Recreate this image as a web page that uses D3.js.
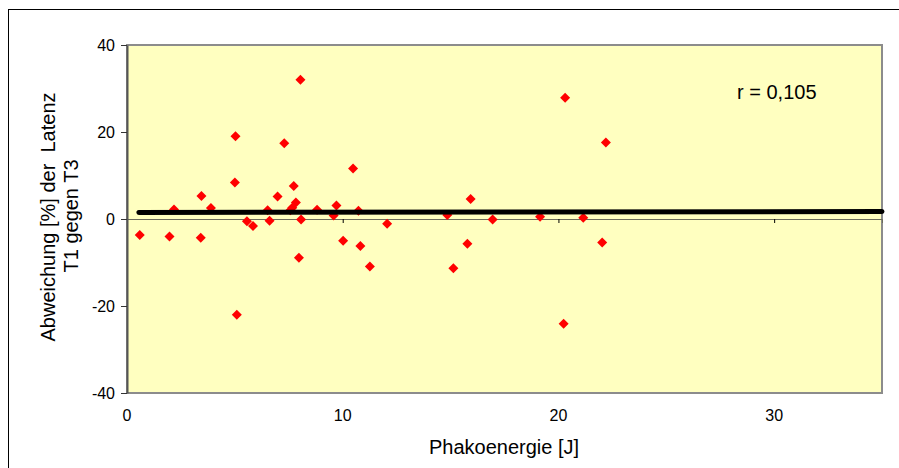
<!DOCTYPE html>
<html>
<head>
<meta charset="utf-8">
<script src="https://cdn.jsdelivr.net/npm/d3@7"></script>
<style>
  body { margin: 0; background: #fff; }
  text { font-family: "Liberation Sans", Arial, sans-serif; fill: #000; }
</style>
</head>
<body>
<div id="chart"></div>
<script>
// data
var energy = [0.59, 1.97, 2.18, 3.42, 3.45, 3.89, 5.03, 5.00, 5.09, 5.56, 5.84,
  6.52, 6.61, 6.98, 7.29, 7.73, 7.83, 7.66, 7.57, 8.04, 8.07, 7.97, 8.81,
  9.71, 9.58, 10.02, 10.48, 10.73, 10.82, 11.26, 12.06, 14.85, 15.93, 16.95,
  19.15, 20.31, 21.15, 22.20, 15.13, 15.78, 20.24, 22.03];
var deviation = [-3.7, -4.0, 2.2, -4.3, 5.3, 2.5, 19.0, 8.4, -22.0, -0.5, -1.6,
  2.0, -0.4, 5.2, 17.4, 7.6, 3.8, 2.6, 2.0, 32.0, -0.1, -8.9, 2.1,
  3.1, 0.8, -5.0, 11.6, 1.9, -6.2, -10.9, -1.1, 0.9, 4.6, -0.1,
  0.5, 27.9, 0.3, 17.6, -11.3, -5.7, -24.1, -5.4];
var trendX = [0.55, 35];
var trendY = [1.5, 1.7];
var xTicks = [0, 10, 20, 30];
var yTicks = [-40, -20, 0, 20, 40];

var W = 899, H = 468;
var margin = {top: 45, right: 17, bottom: 75, left: 127};

var svg = d3.select("#chart").append("svg")
  .attr("width", W).attr("height", H);

// outer chart frame
svg.append("rect")
  .attr("x", 8.5).attr("y", 9.5)
  .attr("width", W + 10).attr("height", H + 10)
  .attr("fill", "#fff").attr("stroke", "#000").attr("stroke-width", 1);

var x = d3.scaleLinear().domain([0, 35]).range([margin.left, W - margin.right]);
var y = d3.scaleLinear().domain([-40, 40]).range([H - margin.bottom, margin.top]);

// plot area
svg.append("rect")
  .attr("x", x(0)).attr("y", y(40))
  .attr("width", x(35) - x(0)).attr("height", y(-40) - y(40))
  .attr("fill", "#FFFFC0").attr("stroke", "#8c8c8c").attr("stroke-width", 2);

// zero line with x ticks
var xAx = svg.append("g")
  .attr("transform", "translate(0," + y(0) + ")")
  .call(d3.axisBottom(x).tickValues(xTicks).tickSize(4).tickFormat(""));
xAx.select(".domain").attr("stroke", "#6b6b5a");
xAx.selectAll(".tick line").attr("stroke", "#000");

// x tick labels
svg.append("g").selectAll("text")
  .data(xTicks)
  .enter().append("text")
    .attr("x", function(d) { return x(d); })
    .attr("y", 421)
    .attr("text-anchor", "middle")
    .style("font-size", "16px")
    .text(function(d) { return d; });

// y axis
var yAx = svg.append("g")
  .attr("transform", "translate(" + x(0) + ",0)")
  .call(d3.axisLeft(y).tickValues(yTicks).tickSize(6).tickPadding(6).tickSizeOuter(0)
    .tickFormat(function(d) { return String(d); }));
yAx.select(".domain").attr("stroke", "#555").attr("stroke-width", 2);
yAx.selectAll(".tick line").attr("stroke", "#333");
yAx.selectAll(".tick text")
  .style("font-size", "16px")
  .style("font-family", "'Liberation Sans', Arial, sans-serif");

// points
var pts = energy.map(function(e, i) { return {x: e, y: deviation[i]}; });
var diamond = d3.symbol().type(d3.symbolSquare).size(50);
svg.append("g").selectAll("path")
  .data(pts)
  .enter().append("path")
    .attr("d", diamond)
    .attr("transform", function(d) {
      return "translate(" + x(d.x) + "," + y(d.y) + ") rotate(45)";
    })
    .attr("fill", "#FF0000");

// trend line
var line = d3.line()
  .x(function(d) { return x(d[0]); })
  .y(function(d) { return y(d[1]); });
svg.append("path")
  .datum(trendX.map(function(v, i) { return [v, trendY[i]]; }))
  .attr("d", line)
  .attr("fill", "none")
  .attr("stroke", "#000")
  .attr("stroke-width", 5)
  .attr("stroke-linecap", "round");

// correlation label
svg.append("text")
  .attr("x", 737).attr("y", 99)
  .style("font-size", "20px")
  .text("r = 0,105");

// X axis label
svg.append("text")
  .attr("x", 504).attr("y", 454)
  .attr("text-anchor", "middle")
  .style("font-size", "20px")
  .text("Phakoenergie [J]");

// Y axis label (two lines)
svg.append("text")
  .attr("transform", "translate(55,217) rotate(-90)")
  .attr("text-anchor", "middle")
  .style("font-size", "20px")
  .style("white-space", "pre")
  .attr("xml:space", "preserve")
  .text("Abweichung [%] der  Latenz");
svg.append("text")
  .attr("transform", "translate(78,216) rotate(-90)")
  .attr("text-anchor", "middle")
  .style("font-size", "20px")
  .text("T1 gegen T3");
</script>
</body>
</html>
